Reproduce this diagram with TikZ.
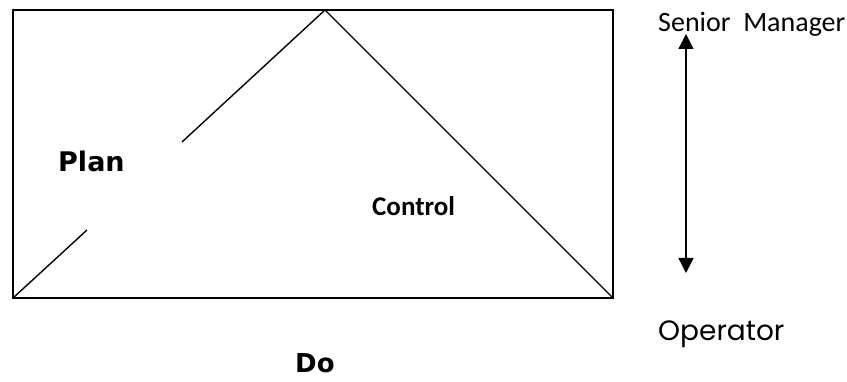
\documentclass[tikz,border=0pt]{standalone}
\usepackage{fontspec}
\setmainfont{DejaVu Sans}
\newfontfamily\calib{Carlito}
\newfontfamily\popp{Poppins}
\usetikzlibrary{arrows.meta}

\begin{document}
\begin{tikzpicture}[x=1pt,y=-1pt,
  lbl/.style={inner sep=0pt,anchor=base west}]
\useasboundingbox (0,0) rectangle (847,382);

% Corners
\coordinate (tl) at (13,10);
\coordinate (br) at (613,298);
\coordinate (bl) at (13,298);
\coordinate (apex) at (325,10);
\coordinate (gapa) at (87,230);
\coordinate (gapb) at (182,142);
\coordinate (top) at (686,34);
\coordinate (bot) at (686,273);

% Nodes
\node[lbl,font=\bfseries\fontsize{27}{30}\selectfont] (plan) at (58,172) {Plan};
\node[lbl,font=\calib\bfseries\fontsize{27}{30}\selectfont] (control) at (372,216) {Control};
\node[lbl,font=\calib\fontsize{28}{30}\selectfont] (senior) at (658,32) {Senior\ \ Manager};
\node[lbl,font=\popp\fontsize{28}{30}\selectfont] (operator) at (658,341) {Operator};
\node[lbl,font=\bfseries\fontsize{26}{30}\selectfont] (do) at (295,373) {Do};

% Edges
\draw[line width=2pt] (tl) rectangle (br);
\draw[line width=1.4pt] (bl)--(gapa);
\draw[line width=1.4pt] (gapb)--(apex);
\draw[line width=1.4pt] (apex)--(br);
\draw[line width=1.3pt,{Triangle[length=15pt,width=15pt]}-{Triangle[length=15pt,width=15pt]}] (top)--(bot);

\end{tikzpicture}
\end{document}
